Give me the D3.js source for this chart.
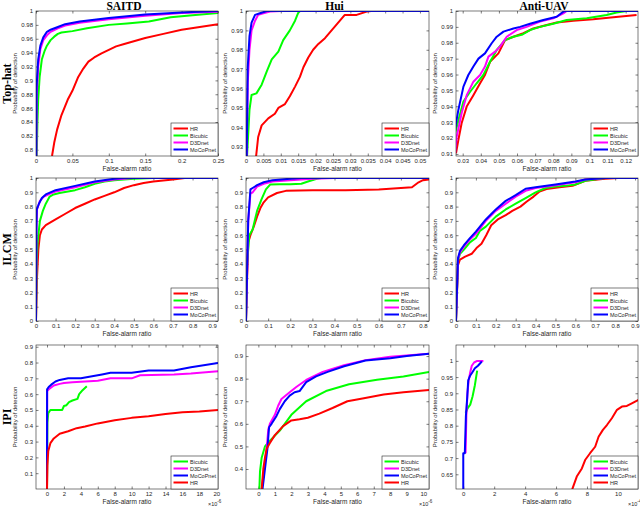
<html>
<head>
<meta charset="utf-8">
<script src="https://cdn.jsdelivr.net/npm/d3@7"></script>
<style>
body{
  margin:0;
  padding:0;
  background:white;
  overflow:hidden;
}
</style>
</head>
<body>
<div id="chart"></div>
<script>
//========== DATA =============
const datasets = ["SAITD", "Hui", "Anti-UAV"];
const detectors = ["Top-hat", "ILCM", "IPI"];
const methods = ["HR", "Bicubic", "D3Dnet", "MoCoPnet"];
const methodsIPI = ["Bicubic", "D3Dnet", "MoCoPnet", "HR"];    // legend order in the last row
const methodColors = ["#ff0000", "#00ff00", "#ff00ff", "#0000ff"];

// Top-hat, SAITD  [false-alarm ratio, probability of detection]
const thSaitdHR = [[0.022,0.791],[0.025,0.81],[0.029,0.829],[0.035,0.85],[0.0435,0.872],[0.05,0.885],[0.058,0.905],[0.065,0.917],[0.072,0.927],[0.08,0.933],[0.09,0.939],[0.1,0.944],[0.11,0.949],[0.12,0.952],[0.15,0.961],[0.175,0.967],[0.2,0.973],[0.225,0.977],[0.25,0.981]];
const thSaitdBic = [[0.001,0.791],[0.002,0.84],[0.003,0.872],[0.005,0.905],[0.008,0.93],[0.012,0.943],[0.015,0.95],[0.02,0.958],[0.025,0.963],[0.03,0.967],[0.035,0.969],[0.05,0.971],[0.07,0.975],[0.1,0.98],[0.125,0.982],[0.155,0.985],[0.185,0.991],[0.215,0.994],[0.25,0.997]];
const thSaitdD3D = [[0.0005,0.791],[0.001,0.88],[0.003,0.92],[0.006,0.945],[0.01,0.958],[0.015,0.965],[0.02,0.97],[0.03,0.975],[0.04,0.979],[0.06,0.983],[0.1,0.988],[0.15,0.993],[0.2,0.997],[0.25,0.999]];
const thSaitdMoCo = [[0.0003,0.791],[0.0008,0.89],[0.003,0.93],[0.006,0.95],[0.01,0.962],[0.015,0.97],[0.02,0.973],[0.03,0.977],[0.04,0.981],[0.06,0.985],[0.1,0.99],[0.15,0.995],[0.2,0.998],[0.25,1]];

// Top-hat, Hui
const thHuiHR = [[0.0029,0.925],[0.0035,0.935],[0.0045,0.941],[0.0064,0.9446],[0.0083,0.947],[0.0093,0.95],[0.0112,0.952],[0.0126,0.956],[0.0141,0.961],[0.0155,0.966],[0.0165,0.971],[0.0179,0.976],[0.0193,0.98],[0.0208,0.983],[0.0227,0.986],[0.0246,0.99],[0.0265,0.994],[0.0284,0.998],[0.0318,0.998],[0.0347,0.9997],[0.036,1],[0.0526,1]];
const thHuiBic = [[0.0003,0.925],[0.001,0.949],[0.0016,0.9567],[0.003,0.9575],[0.0045,0.962],[0.006,0.969],[0.0074,0.975],[0.0093,0.979],[0.0107,0.985],[0.0126,0.99],[0.0141,0.995],[0.015,0.999],[0.0155,1],[0.0526,1]];
const thHuiD3D = [[0.0002,0.925],[0.0005,0.963],[0.001,0.98],[0.0016,0.99],[0.0026,0.995],[0.0035,0.998],[0.005,0.9988],[0.0069,0.9997],[0.0102,1],[0.0526,1]];
const thHuiMoCo = [[0.0002,0.925],[0.0005,0.971],[0.001,0.987],[0.0016,0.994],[0.0026,0.998],[0.004,0.9988],[0.006,1],[0.0526,1]];

// Top-hat, Anti-UAV
const thUavHR = [[0.0263,0.9104],[0.0276,0.9188],[0.0294,0.9293],[0.0322,0.9398],[0.0359,0.947],[0.0396,0.9545],[0.0423,0.9597],[0.0451,0.968],[0.0497,0.9733],[0.0534,0.9817],[0.058,0.9838],[0.0635,0.986],[0.069,0.989],[0.0764,0.9912],[0.0819,0.9927],[0.0911,0.9939],[0.1021,0.9948],[0.1132,0.996],[0.126,0.9975]];
const thUavBic = [[0.0254,0.921],[0.0276,0.931],[0.0304,0.943],[0.034,0.949],[0.0377,0.9545],[0.0414,0.9597],[0.0451,0.968],[0.0488,0.9755],[0.0534,0.9817],[0.058,0.9838],[0.0626,0.985],[0.0672,0.988],[0.0727,0.99],[0.08,0.992],[0.0874,0.9943],[0.0985,0.9954],[0.1095,0.9975],[0.115,0.999],[0.1205,1],[0.1268,1]];
const thUavD3D = [[0.0258,0.9104],[0.0267,0.921],[0.0294,0.9356],[0.0322,0.947],[0.0359,0.9555],[0.0396,0.9597],[0.0423,0.965],[0.0442,0.9713],[0.0479,0.9744],[0.0506,0.9776],[0.0543,0.9838],[0.0598,0.988],[0.0653,0.99],[0.0727,0.9933],[0.08,0.9954],[0.0856,0.9985],[0.0874,1],[0.1268,1]];
const thUavMoCo = [[0.0254,0.923],[0.0276,0.9377],[0.0304,0.9524],[0.0331,0.9597],[0.0359,0.965],[0.0387,0.97],[0.0423,0.9733],[0.046,0.9797],[0.0488,0.9838],[0.0525,0.987],[0.058,0.989],[0.0617,0.99],[0.0672,0.992],[0.0745,0.9943],[0.0819,0.9964],[0.0856,0.9996],[0.0874,1],[0.1268,1]];

// ILCM, SAITD
const ilSaitdHR = [[0,0],[0.005,0.3],[0.012,0.5],[0.02,0.6],[0.03,0.64],[0.05,0.67],[0.1,0.71],[0.15,0.75],[0.2,0.79],[0.25,0.82],[0.3,0.85],[0.35,0.875],[0.4,0.9],[0.45,0.93],[0.5,0.95],[0.55,0.965],[0.6,0.975],[0.7,0.99],[0.76,1],[0.93,1]];
const ilSaitdBic = [[0,0],[0.003,0.4],[0.008,0.55],[0.02,0.7],[0.035,0.77],[0.05,0.82],[0.07,0.87],[0.09,0.885],[0.12,0.895],[0.2,0.915],[0.25,0.935],[0.3,0.96],[0.35,0.975],[0.4,0.985],[0.5,0.995],[0.6,1],[0.93,1]];
const ilSaitdD3D = [[0,0],[0.002,0.6],[0.005,0.78],[0.02,0.84],[0.04,0.87],[0.07,0.89],[0.1,0.905],[0.2,0.935],[0.3,0.97],[0.4,0.99],[0.5,1],[0.93,1]];
const ilSaitdMoCo = [[0,0],[0.002,0.65],[0.004,0.78],[0.015,0.82],[0.03,0.86],[0.05,0.885],[0.1,0.915],[0.2,0.945],[0.3,0.975],[0.4,0.995],[0.45,1],[0.93,1]];

// ILCM, Hui
const ilHuiHR = [[0,0],[0.005,0.3],[0.01,0.55],[0.02,0.6],[0.035,0.66],[0.05,0.73],[0.065,0.79],[0.08,0.83],[0.1,0.865],[0.14,0.895],[0.18,0.91],[0.3,0.915],[0.45,0.915],[0.6,0.92],[0.7,0.93],[0.75,0.935],[0.78,0.97],[0.8,0.985],[0.827,0.99]];
const ilHuiBic = [[0,0],[0.005,0.4],[0.015,0.6],[0.03,0.64],[0.05,0.77],[0.07,0.85],[0.09,0.92],[0.11,0.955],[0.15,0.957],[0.2,0.957],[0.25,0.96],[0.28,0.975],[0.32,0.995],[0.34,1],[0.827,1]];
const ilHuiD3D = [[0,0],[0.01,0.7],[0.02,0.89],[0.03,0.9],[0.05,0.94],[0.08,0.96],[0.12,0.975],[0.2,0.985],[0.3,0.995],[0.4,1],[0.827,1]];
const ilHuiMoCo = [[0,0],[0.01,0.7],[0.02,0.92],[0.03,0.93],[0.05,0.95],[0.08,0.97],[0.12,0.985],[0.2,0.995],[0.25,1],[0.827,1]];

// ILCM, Anti-UAV
const ilUavHR = [[0,0],[0.01,0.39],[0.02,0.43],[0.046,0.45],[0.079,0.47],[0.103,0.51],[0.128,0.54],[0.152,0.6],[0.177,0.67],[0.21,0.71],[0.25,0.74],[0.283,0.77],[0.324,0.8],[0.356,0.836],[0.39,0.87],[0.42,0.906],[0.455,0.923],[0.52,0.935],[0.586,0.946],[0.65,0.98],[0.75,0.995],[0.815,1],[0.92,1]];
const ilUavBic = [[0,0],[0.01,0.42],[0.02,0.47],[0.04,0.5],[0.07,0.55],[0.1,0.58],[0.12,0.63],[0.15,0.66],[0.2,0.73],[0.25,0.78],[0.3,0.82],[0.35,0.86],[0.4,0.9],[0.45,0.93],[0.5,0.94],[0.55,0.945],[0.6,0.955],[0.65,0.98],[0.75,1],[0.92,1]];
const ilUavD3D = [[0,0],[0.01,0.43],[0.02,0.48],[0.04,0.52],[0.07,0.57],[0.1,0.61],[0.15,0.7],[0.2,0.77],[0.25,0.82],[0.3,0.87],[0.35,0.91],[0.4,0.93],[0.5,0.95],[0.6,0.97],[0.65,0.99],[0.75,1],[0.92,1]];
const ilUavMoCo = [[0,0],[0.01,0.44],[0.02,0.49],[0.04,0.53],[0.07,0.58],[0.1,0.625],[0.15,0.71],[0.2,0.78],[0.25,0.84],[0.3,0.88],[0.35,0.925],[0.4,0.935],[0.5,0.955],[0.6,0.975],[0.65,0.99],[0.75,1],[0.92,1]];

// IPI, SAITD (x in 1e-6)
const ipSaitdHR = [[0,0],[0.05,0.15],[0.15,0.24],[0.4,0.29],[0.8,0.32],[1.5,0.35],[2.5,0.365],[3.5,0.385],[4.5,0.395],[6,0.415],[8,0.435],[10,0.45],[12,0.46],[14,0.475],[16,0.485],[18,0.49],[20.2,0.5]];
const ipSaitdBic = [[0,0],[0.05,0.42],[0.15,0.48],[0.4,0.5],[1.8,0.5],[2.0,0.525],[2.3,0.53],[2.6,0.55],[3.0,0.56],[3.6,0.57],[3.8,0.6],[4.2,0.625],[4.7,0.65]];
const ipSaitdD3D = [[0,0],[0.02,0.62],[0.3,0.635],[0.8,0.655],[1.5,0.665],[2,0.67],[3,0.675],[4.5,0.68],[6,0.685],[7.5,0.7],[10,0.7],[11,0.72],[15,0.725],[17,0.73],[20.2,0.745]];
const ipSaitdMoCo = [[0,0],[0.01,0.63],[0.2,0.645],[0.5,0.66],[1,0.68],[1.5,0.69],[2.5,0.7],[4,0.7],[5,0.71],[6.5,0.725],[7.5,0.735],[10,0.735],[12,0.75],[15,0.75],[17,0.77],[20.2,0.797]];

// IPI, Hui (x in 1e-6)
const ipHuiHR = [[0.2,0.31],[0.3,0.4],[0.4,0.45],[0.5,0.49],[0.7,0.515],[1,0.55],[1.5,0.59],[2,0.615],[2.5,0.62],[3,0.627],[3.7,0.645],[4.5,0.67],[5.4,0.7],[6.4,0.713],[7.6,0.73],[8.8,0.74],[10.35,0.75]];
const ipHuiBic = [[0.06,0.31],[0.1,0.39],[0.2,0.45],[0.4,0.5],[0.7,0.525],[1.3,0.57],[2,0.64],[2.9,0.7],[4.1,0.745],[5.5,0.775],[7.2,0.795],[8.8,0.81],[10.35,0.83]];
const ipHuiD3D = [[0.2,0.31],[0.3,0.37],[0.4,0.425],[0.5,0.485],[0.6,0.575],[0.7,0.6],[1,0.64],[1.2,0.68],[1.4,0.71],[1.9,0.74],[2.3,0.763],[2.9,0.794],[3.9,0.83],[5.2,0.86],[6.5,0.882],[8,0.897],[10.35,0.91]];
const ipHuiMoCo = [[0.25,0.31],[0.35,0.37],[0.45,0.43],[0.55,0.49],[0.65,0.585],[0.8,0.6],[1.1,0.635],[1.3,0.665],[1.6,0.7],[1.9,0.725],[2.2,0.74],[2.5,0.745],[2.9,0.785],[3.5,0.81],[4.2,0.83],[5.2,0.855],[6.5,0.88],[8,0.89],[9,0.9],[10.35,0.91]];

// IPI, Anti-UAV (x in 1e-4)
const ipUavHR = [[7.05,0.604],[7.34,0.643],[7.67,0.668],[7.88,0.694],[8.2,0.715],[8.53,0.735],[8.75,0.766],[9.03,0.787],[9.29,0.802],[9.61,0.823],[9.94,0.849],[10.26,0.859],[10.58,0.861],[10.9,0.869],[11.34,0.88]];
const ipUavBic = [[0.15,0.84],[0.3,0.855],[0.45,0.865],[0.6,0.89],[0.75,0.925],[0.85,0.955],[0.9,0.97]];
const ipUavD3D = [[0.15,0.715],[0.2,0.83],[0.27,0.9],[0.35,0.94],[0.45,0.965],[0.55,0.985],[0.7,0.995],[0.9,1],[1.3,1]];
const ipUavMoCo = [[0,0.604],[0,0.715],[0.1,0.715],[0.17,0.83],[0.26,0.89],[0.32,0.94],[0.45,0.955],[0.55,0.962],[0.75,0.977],[0.95,0.985],[1.2,0.998]];

// axis limits and ticks, row by row
const xDomains = [[0,0.25],[0,0.0526],[0.0263,0.1268],[0,0.93],[0,0.827],[0,0.915],[-1.3,20.2],[-0.75,10.35],[-0.47,11.3]];
const yDomains = [[0.791,1],[0.9252,1],[0.9087,1],[0,1],[0,1],[0,1],[0,0.911],[0.3115,0.949],[0.6046,1.049]];
const xTickVals = [
  [0,0.05,0.1,0.15,0.2,0.25],
  [0,0.005,0.01,0.015,0.02,0.025,0.03,0.035,0.04,0.045,0.05],
  [0.03,0.04,0.05,0.06,0.07,0.08,0.09,0.1,0.11,0.12],
  [0,0.1,0.2,0.3,0.4,0.5,0.6,0.7,0.8,0.9],
  [0,0.1,0.2,0.3,0.4,0.5,0.6,0.7,0.8],
  [0,0.1,0.2,0.3,0.4,0.5,0.6,0.7,0.8,0.9],
  [0,2,4,6,8,10,12,14,16,18,20],
  [0,1,2,3,4,5,6,7,8,9,10],
  [0,2,4,6,8,10]
];
const yTickVals = [
  [0.8,0.82,0.84,0.86,0.88,0.9,0.92,0.94,0.96,0.98,1],
  [0.93,0.94,0.95,0.96,0.97,0.98,0.99,1],
  [0.91,0.92,0.93,0.94,0.95,0.96,0.97,0.98,0.99,1],
  [0,0.1,0.2,0.3,0.4,0.5,0.6,0.7,0.8,0.9,1],
  [0,0.1,0.2,0.3,0.4,0.5,0.6,0.7,0.8,0.9,1],
  [0,0.1,0.2,0.3,0.4,0.5,0.6,0.7,0.8,0.9,1],
  [0.1,0.2,0.3,0.4,0.5,0.6,0.7,0.8,0.9],
  [0.4,0.5,0.6,0.7,0.8,0.9],
  [0.65,0.7,0.75,0.8,0.85,0.9,0.95,1]
];
const xExponents = ["", "", "", "", "", "", "-6", "-6", "-4"];

const seriesByPanel = [
  [thSaitdHR, thSaitdBic, thSaitdD3D, thSaitdMoCo],
  [thHuiHR, thHuiBic, thHuiD3D, thHuiMoCo],
  [thUavHR, thUavBic, thUavD3D, thUavMoCo],
  [ilSaitdHR, ilSaitdBic, ilSaitdD3D, ilSaitdMoCo],
  [ilHuiHR, ilHuiBic, ilHuiD3D, ilHuiMoCo],
  [ilUavHR, ilUavBic, ilUavD3D, ilUavMoCo],
  [ipSaitdHR, ipSaitdBic, ipSaitdD3D, ipSaitdMoCo],
  [ipHuiHR, ipHuiBic, ipHuiD3D, ipHuiMoCo],
  [ipUavHR, ipUavBic, ipUavD3D, ipUavMoCo]
];

//========== LAYOUT =============
const width = 640, height = 506;
const colX = [[36,218],[246,429],[456,638]];
const rowY = [[11,156],[178,321],[345,489]];
const axisColor = "#262626";
const sans = "'Liberation Sans', Arial, sans-serif";
const serif = "'Liberation Serif', 'Times New Roman', serif";
const fmt = d => String(+d.toFixed(6));

const svg = d3.select("#chart").append("svg")
  .attr("width", width).attr("height", height)
  .style("background", "white");

const defs = svg.append("defs");

// column titles
datasets.forEach((name, c) => {
  svg.append("text")
    .attr("x", (colX[c][0] + colX[c][1]) / 2 - 3)
    .attr("y", 9.5)
    .attr("text-anchor", "middle")
    .style("font-family", serif).style("font-weight", "bold").style("font-size", "11.5px")
    .text(name);
});

// row titles
detectors.forEach((name, r) => {
  const cy = (rowY[r][0] + rowY[r][1]) / 2;
  svg.append("text")
    .attr("transform", `translate(11,${cy}) rotate(-90)`)
    .attr("text-anchor", "middle")
    .style("font-family", serif).style("font-weight", "bold").style("font-size", "12px")
    .text(name);
});

for (let r = 0; r < 3; r++) {
  for (let c = 0; c < 3; c++) {
    const i = r * 3 + c;
    const [x0, x1] = colX[c], [y0, y1] = rowY[r];
    const x = d3.scaleLinear().domain(xDomains[i]).range([x0, x1]);
    const y = d3.scaleLinear().domain(yDomains[i]).range([y1, y0]);
    const g = svg.append("g").attr("class", "panel");

    defs.append("clipPath").attr("id", "clip" + i)
      .append("rect").attr("x", x0).attr("y", y0).attr("width", x1 - x0).attr("height", y1 - y0);

    // axes with inward ticks on all four sides
    const styleAxis = sel => {
      sel.select(".domain").remove();
      sel.selectAll(".tick line").attr("stroke", axisColor).attr("stroke-width", 0.6);
      sel.selectAll(".tick text").attr("fill", axisColor).style("font-size", "6px").style("font-family", sans);
    };
    g.append("g").attr("transform", `translate(0,${y1})`)
      .call(d3.axisBottom(x).tickValues(xTickVals[i]).tickFormat(fmt).tickSizeInner(-2.5).tickSizeOuter(0).tickPadding(3))
      .call(styleAxis);
    g.append("g").attr("transform", `translate(0,${y0})`)
      .call(d3.axisTop(x).tickValues(xTickVals[i]).tickFormat("").tickSizeInner(-2.5).tickSizeOuter(0))
      .call(styleAxis);
    g.append("g").attr("transform", `translate(${x0},0)`)
      .call(d3.axisLeft(y).tickValues(yTickVals[i]).tickFormat(fmt).tickSizeInner(-2.5).tickSizeOuter(0).tickPadding(3))
      .call(styleAxis);
    g.append("g").attr("transform", `translate(${x1},0)`)
      .call(d3.axisRight(y).tickValues(yTickVals[i]).tickFormat("").tickSizeInner(-2.5).tickSizeOuter(0))
      .call(styleAxis);

    // curves
    const line = d3.line().x(d => x(d[0])).y(d => y(d[1]));
    const series = seriesByPanel[i];
    const order = r === 2 ? [1, 2, 3, 0] : [0, 1, 2, 3];
    const lines = g.append("g").attr("clip-path", `url(#clip${i})`);
    order.forEach(k => {
      lines.append("path").datum(series[k])
        .attr("d", line)
        .attr("fill", "none")
        .attr("stroke", methodColors[k])
        .attr("stroke-width", 2)
        .attr("stroke-linejoin", "round");
    });

    // frame
    g.append("rect").attr("x", x0).attr("y", y0).attr("width", x1 - x0).attr("height", y1 - y0)
      .attr("fill", "none").attr("stroke", axisColor).attr("stroke-width", 0.6);

    // axis labels
    g.append("text")
      .attr("x", (x0 + x1) / 2).attr("y", y1 + 15)
      .attr("text-anchor", "middle").attr("fill", axisColor)
      .style("font-family", sans).style("font-size", "6.5px")
      .text("False-alarm ratio");
    g.append("text")
      .attr("transform", `translate(${x0 - 19},${(y0 + y1) / 2}) rotate(-90)`)
      .attr("text-anchor", "middle").attr("fill", axisColor)
      .style("font-family", sans).style("font-size", "6px")
      .text("Probability of detection");

    if (xExponents[i]) {
      const t = g.append("text")
        .attr("x", x1 - 10).attr("y", y1 + 16.5)
        .attr("fill", axisColor)
        .style("font-family", sans).style("font-size", "5.5px");
      t.append("tspan").text("×10");
      t.append("tspan").attr("dy", -3).style("font-size", "4.5px").text(xExponents[i]);
    }

    // legend
    const names = r === 2 ? methodsIPI : methods;
    const lw = 47, lh = 33;
    const lg = g.append("g").attr("transform", `translate(${x1 - lw},${y1 - lh})`);
    lg.append("rect").attr("width", lw).attr("height", lh)
      .attr("fill", "white").attr("stroke", axisColor).attr("stroke-width", 0.6);
    names.forEach((name, j) => {
      const k = methods.indexOf(name);
      const ly = 5.5 + j * 7;
      lg.append("line").attr("x1", 2.5).attr("x2", 17).attr("y1", ly).attr("y2", ly)
        .attr("stroke", methodColors[k]).attr("stroke-width", 2);
      lg.append("text").attr("x", 19).attr("y", ly + 2)
        .attr("fill", axisColor)
        .style("font-family", sans).style("font-size", "5.5px")
        .text(name);
    });
  }
}
</script>
</body>
</html>
